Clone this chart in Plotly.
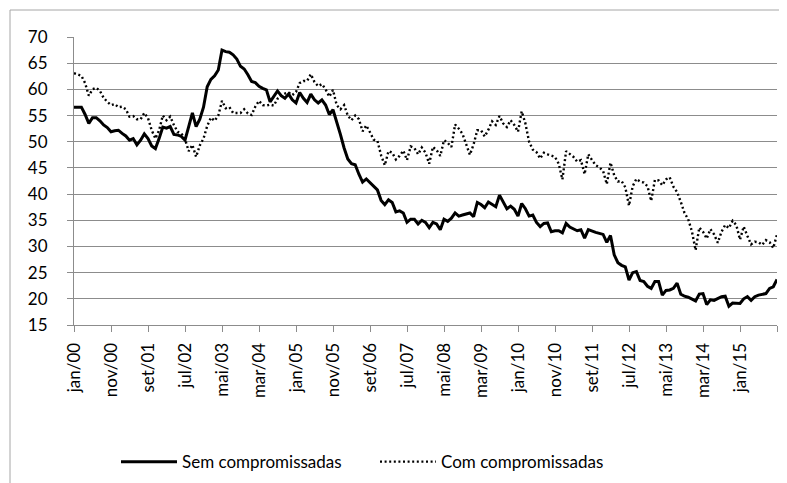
import plotly.graph_objects as go

# Monthly series, jan/00 .. nov/15 (191 months)
sem_compromissadas = [
    56.6, 56.6, 56.6, 55.2, 53.5, 54.6, 54.6, 54.0, 53.2, 52.7,
    51.9, 52.1, 52.2, 51.6, 51.1, 50.3, 50.6, 49.4, 50.3, 51.5,
    50.6, 49.2, 48.7, 50.6, 52.8, 52.6, 52.9, 51.4, 51.3, 51.0,
    50.3, 52.9, 55.5, 52.9, 54.3, 56.6, 60.5, 61.9, 62.6, 63.7,
    67.5, 67.2, 67.1, 66.6, 65.8, 64.4, 63.9, 62.8, 61.5, 61.3,
    60.6, 60.2, 59.9, 57.6, 58.6, 59.7, 58.8, 58.3, 59.1, 58.0,
    57.4, 59.4, 58.3, 57.5, 59.1, 58.0, 57.4, 58.0, 57.0, 55.2,
    56.1, 53.9, 51.4, 48.8, 46.7, 45.8, 45.6, 43.8, 42.3, 42.9,
    42.2, 41.3, 40.8, 38.8, 38.0, 38.9, 38.4, 36.6, 36.8, 36.4,
    34.6, 35.2, 35.2, 34.3, 35.0, 34.6, 33.6, 34.6, 34.3, 33.2,
    35.2, 34.8, 35.4, 36.4, 35.8, 36.0, 36.2, 36.4, 35.7, 38.4,
    38.0, 37.4, 38.5, 38.1, 37.6, 39.8, 38.5, 37.2, 37.7, 37.1,
    35.8, 38.2, 37.2, 35.8, 36.0, 34.6, 33.8, 34.4, 34.5, 32.8,
    33.0, 33.0, 32.6, 34.4, 33.7, 33.4, 33.0, 33.2, 31.6, 33.2,
    32.9, 32.7, 32.5, 32.3, 30.8, 32.1, 28.4, 26.9, 26.4, 26.1,
    23.6, 25.0, 25.2, 23.5, 23.3, 22.4, 22.0, 23.3, 23.3, 20.7,
    21.6, 21.7, 22.0, 23.0, 20.9, 20.5, 20.3, 19.9, 19.6, 20.9,
    21.0, 18.9, 19.8, 19.7, 20.0, 20.4, 20.5, 18.6, 19.2, 19.2,
    19.1, 20.0, 20.4, 19.7, 20.4, 20.7, 20.9, 21.0, 22.0, 22.3,
    23.7,
]

com_compromissadas = [
    63.1, 62.8, 62.6, 61.2, 58.8, 60.0, 60.3, 59.7, 58.4, 57.6,
    57.0, 57.2, 56.6, 56.7, 56.2, 54.8, 54.9, 54.3, 54.3, 55.5,
    54.5, 52.2, 50.6, 52.2, 55.0, 54.1, 54.8, 53.2, 51.9, 51.6,
    50.5, 48.2, 49.4, 47.1, 49.3, 50.6, 53.0, 54.6, 54.0, 55.0,
    57.8, 56.4, 56.6, 55.5, 55.5, 55.5, 56.2, 55.4, 55.1, 56.7,
    57.8, 57.0, 56.9, 57.1, 56.9, 58.2, 58.8, 59.2, 59.4, 58.9,
    59.5, 61.2, 61.6, 61.6, 62.9, 61.4, 60.6, 61.0, 60.0, 58.6,
    59.9, 57.0, 56.2, 57.0, 55.0, 54.1, 55.0, 54.3, 52.0, 53.1,
    51.8, 50.4, 50.2, 47.4, 45.5, 48.2, 47.9, 46.6, 47.3, 48.3,
    46.5, 49.1, 48.8, 47.6, 48.9, 47.9, 45.8, 49.0, 48.4, 47.3,
    50.3, 49.8, 49.0, 53.3, 52.5, 51.5, 49.5, 47.5, 49.5, 52.2,
    52.2, 51.0, 52.3, 53.9, 53.2, 54.9, 53.5, 52.8, 54.1, 53.2,
    51.9, 55.8, 53.5, 50.0, 48.5, 48.0, 46.8, 47.9, 47.6, 47.3,
    47.1, 45.8, 42.8, 48.2, 47.6, 47.1, 46.2, 46.5, 43.8, 47.6,
    46.5, 45.5, 45.1, 44.4, 41.9, 46.0, 43.6, 42.4, 42.5, 41.3,
    37.8, 41.5, 42.9, 42.4, 42.2, 41.5, 38.7, 42.7, 42.6, 41.7,
    42.8, 43.2, 41.4, 40.4, 38.5, 36.4, 35.2, 32.9, 29.3, 33.6,
    32.8, 31.5, 33.3, 32.3, 30.7, 32.8, 34.1, 33.5, 34.9, 34.1,
    31.3, 33.8, 32.0, 30.4, 30.9, 30.8, 30.3, 31.2, 30.8, 29.7,
    32.3,
]

month_index = list(range(len(sem_compromissadas)))

tick_labels = ["jan/00", "nov/00", "set/01", "jul/02", "mai/03", "mar/04",
               "jan/05", "nov/05", "set/06", "jul/07", "mai/08", "mar/09",
               "jan/10", "nov/10", "set/11", "jul/12", "mai/13", "mar/14",
               "jan/15"]
tick_positions = [10 * k for k in range(len(tick_labels))]

FONT = "Lato"
GRID = "#8c8c8c"
TEXT = "#000000"

fig = go.Figure()
fig.add_trace(go.Scatter(
    x=month_index, y=sem_compromissadas, mode="lines",
    name="Sem compromissadas",
    line=dict(color="black", width=3),
))
fig.add_trace(go.Scatter(
    x=month_index, y=com_compromissadas, mode="lines",
    name="Com compromissadas",
    line=dict(color="black", width=2.4, dash="2px,2.6px"),
))

# page body has an 8px default margin, so margins compensate for it
fig.update_layout(
    width=787, height=483,
    margin=dict(l=66, r=18, t=29, b=166, autoexpand=False),
    paper_bgcolor="white", plot_bgcolor="white",
    font=dict(family=FONT, size=17, color=TEXT),
    showlegend=True,
    legend=dict(orientation="h", x=(116 - 74) / 703, xanchor="left",
                y=-0.476, yanchor="middle",
                font=dict(family=FONT, size=17, color=TEXT),
                itemwidth=56, entrywidth=188, tracegroupgap=0),
    xaxis=dict(
        range=[0, len(sem_compromissadas) - 1],
        tickmode="array", tickvals=tick_positions, ticktext=tick_labels,
        tickangle=-90, ticks="outside", ticklen=6, tickcolor=GRID,
        showline=True, linecolor=GRID, linewidth=1,
        showgrid=False, zeroline=False, automargin=False,
        minor=dict(tickvals=[190], ticks="outside", ticklen=6, tickcolor=GRID),
        tickfont=dict(family=FONT, size=17, color=TEXT),
        ticklabelstandoff=4,
    ),
    yaxis=dict(
        range=[15, 70], dtick=5, tick0=15,
        ticks="outside", ticklen=6, tickcolor=GRID,
        showline=True, linecolor=GRID, linewidth=1,
        showgrid=True, gridcolor=GRID, gridwidth=1,
        zeroline=False, automargin=False,
        tickfont=dict(family=FONT, size=17, color=TEXT),
        ticklabelstandoff=16,
    ),
)

# chart frame (left and top edges)
fig.add_shape(type="line", xref="paper", yref="paper",
              x0=(10 - 74) / 703, x1=(10 - 74) / 703,
              y0=(325 - 10) / 288, y1=(325 - 490) / 288,
              line=dict(color="#a6a6a6", width=1))
fig.add_shape(type="line", xref="paper", yref="paper",
              x0=(10 - 74) / 703, x1=(790 - 74) / 703,
              y0=(325 - 10) / 288, y1=(325 - 10) / 288,
              line=dict(color="#a6a6a6", width=1))

fig.write_html("out.html")
